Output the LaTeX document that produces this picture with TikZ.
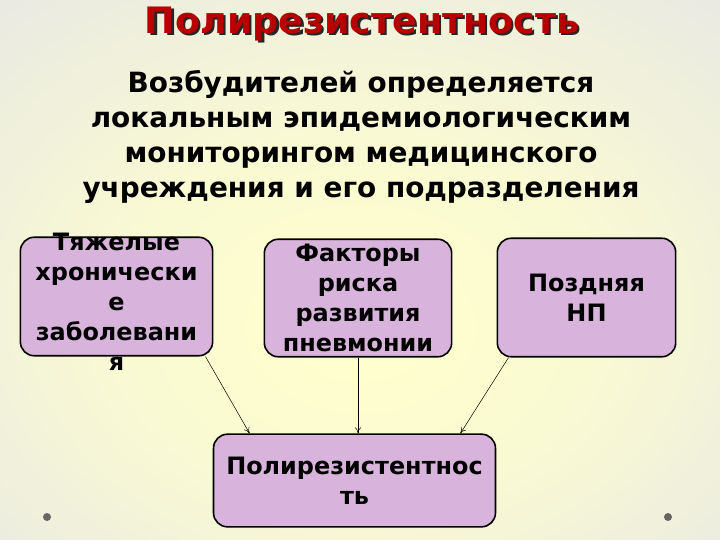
\documentclass[tikz,border=0pt]{standalone}
\usepackage{fontspec}
\setmainfont{DejaVu Sans}
\usetikzlibrary{arrows.meta,positioning,calc}

\definecolor{bgin}{RGB}{255,255,205}
\definecolor{bgout}{RGB}{230,230,230}
\definecolor{boxfill}{RGB}{216,180,220}
\definecolor{titlered}{RGB}{185,0,0}
\pgfdeclareradialshading{slidebg}{\pgfpoint{0bp}{-6bp}}{color(0bp)=(bgin); color(16bp)=(bgin!80!bgout); color(42bp)=(bgout); color(70bp)=(bgout)}

\tikzset{
  infobox/.style={draw=black,line width=1.6bp,fill=boxfill,rounded corners=14bp},
  boxtext/.style={align=center,font=\fontsize{24}{30}\selectfont\bfseries},
  link/.style={-{To[length=6bp,width=6bp]},line width=0.5bp}
}

\begin{document}
\begin{tikzpicture}[x=1bp,y=-1bp]
      \useasboundingbox (0,0) rectangle (720,540);
      % background
      \shade[shading=slidebg] (0,0) rectangle (720,540);
      \fill[gray!80!black] (47,517) circle (4);
      \fill[gray!80!black] (668,517) circle (4);
      % heading
      \node[text=black!85,font=\fontsize{36.5}{40}\selectfont\bfseries] at (364.5,26.5) {Полирезистентность};
      \node[text=titlered,font=\fontsize{36.5}{40}\selectfont\bfseries] (title) at (362,24) {Полирезистентность};
      \node[align=center,font=\fontsize{28}{35}\selectfont\bfseries] (sub) at (361,137)
        {Возбудителей определяется\\локальным эпидемиологическим\\мониторингом медицинского\\учреждения и его подразделения};
      % upper boxes
      \node[infobox,minimum width=193,minimum height=119] (chron) at (116.5,296.5) {};
      \node[boxtext] at (116.5,302) {Тяжелые\\хронически\\е\\заболевани\\я};
      \node[infobox,boxtext,minimum width=188,minimum height=118] (risk) at (358,298)
        {Факторы\\риска\\развития\\пневмонии};
      \node[infobox,boxtext,minimum width=179,minimum height=119] (late) at (586.5,297.5)
        {Поздняя\\НП};
      % lower box
      \node[infobox,boxtext,minimum width=283,minimum height=93] (res) at (354.5,480.5)
        {Полирезистентнос\\ть};
      % arrows
      \draw[link] ([xshift=-8]chron.south east) -- ([xshift=37]res.north west);
      \draw[link] (risk.south) -- (risk.south |- res.north);
      \draw[link] ([xshift=12]late.south west) -- ([xshift=-36]res.north east);
\end{tikzpicture}
\end{document}
